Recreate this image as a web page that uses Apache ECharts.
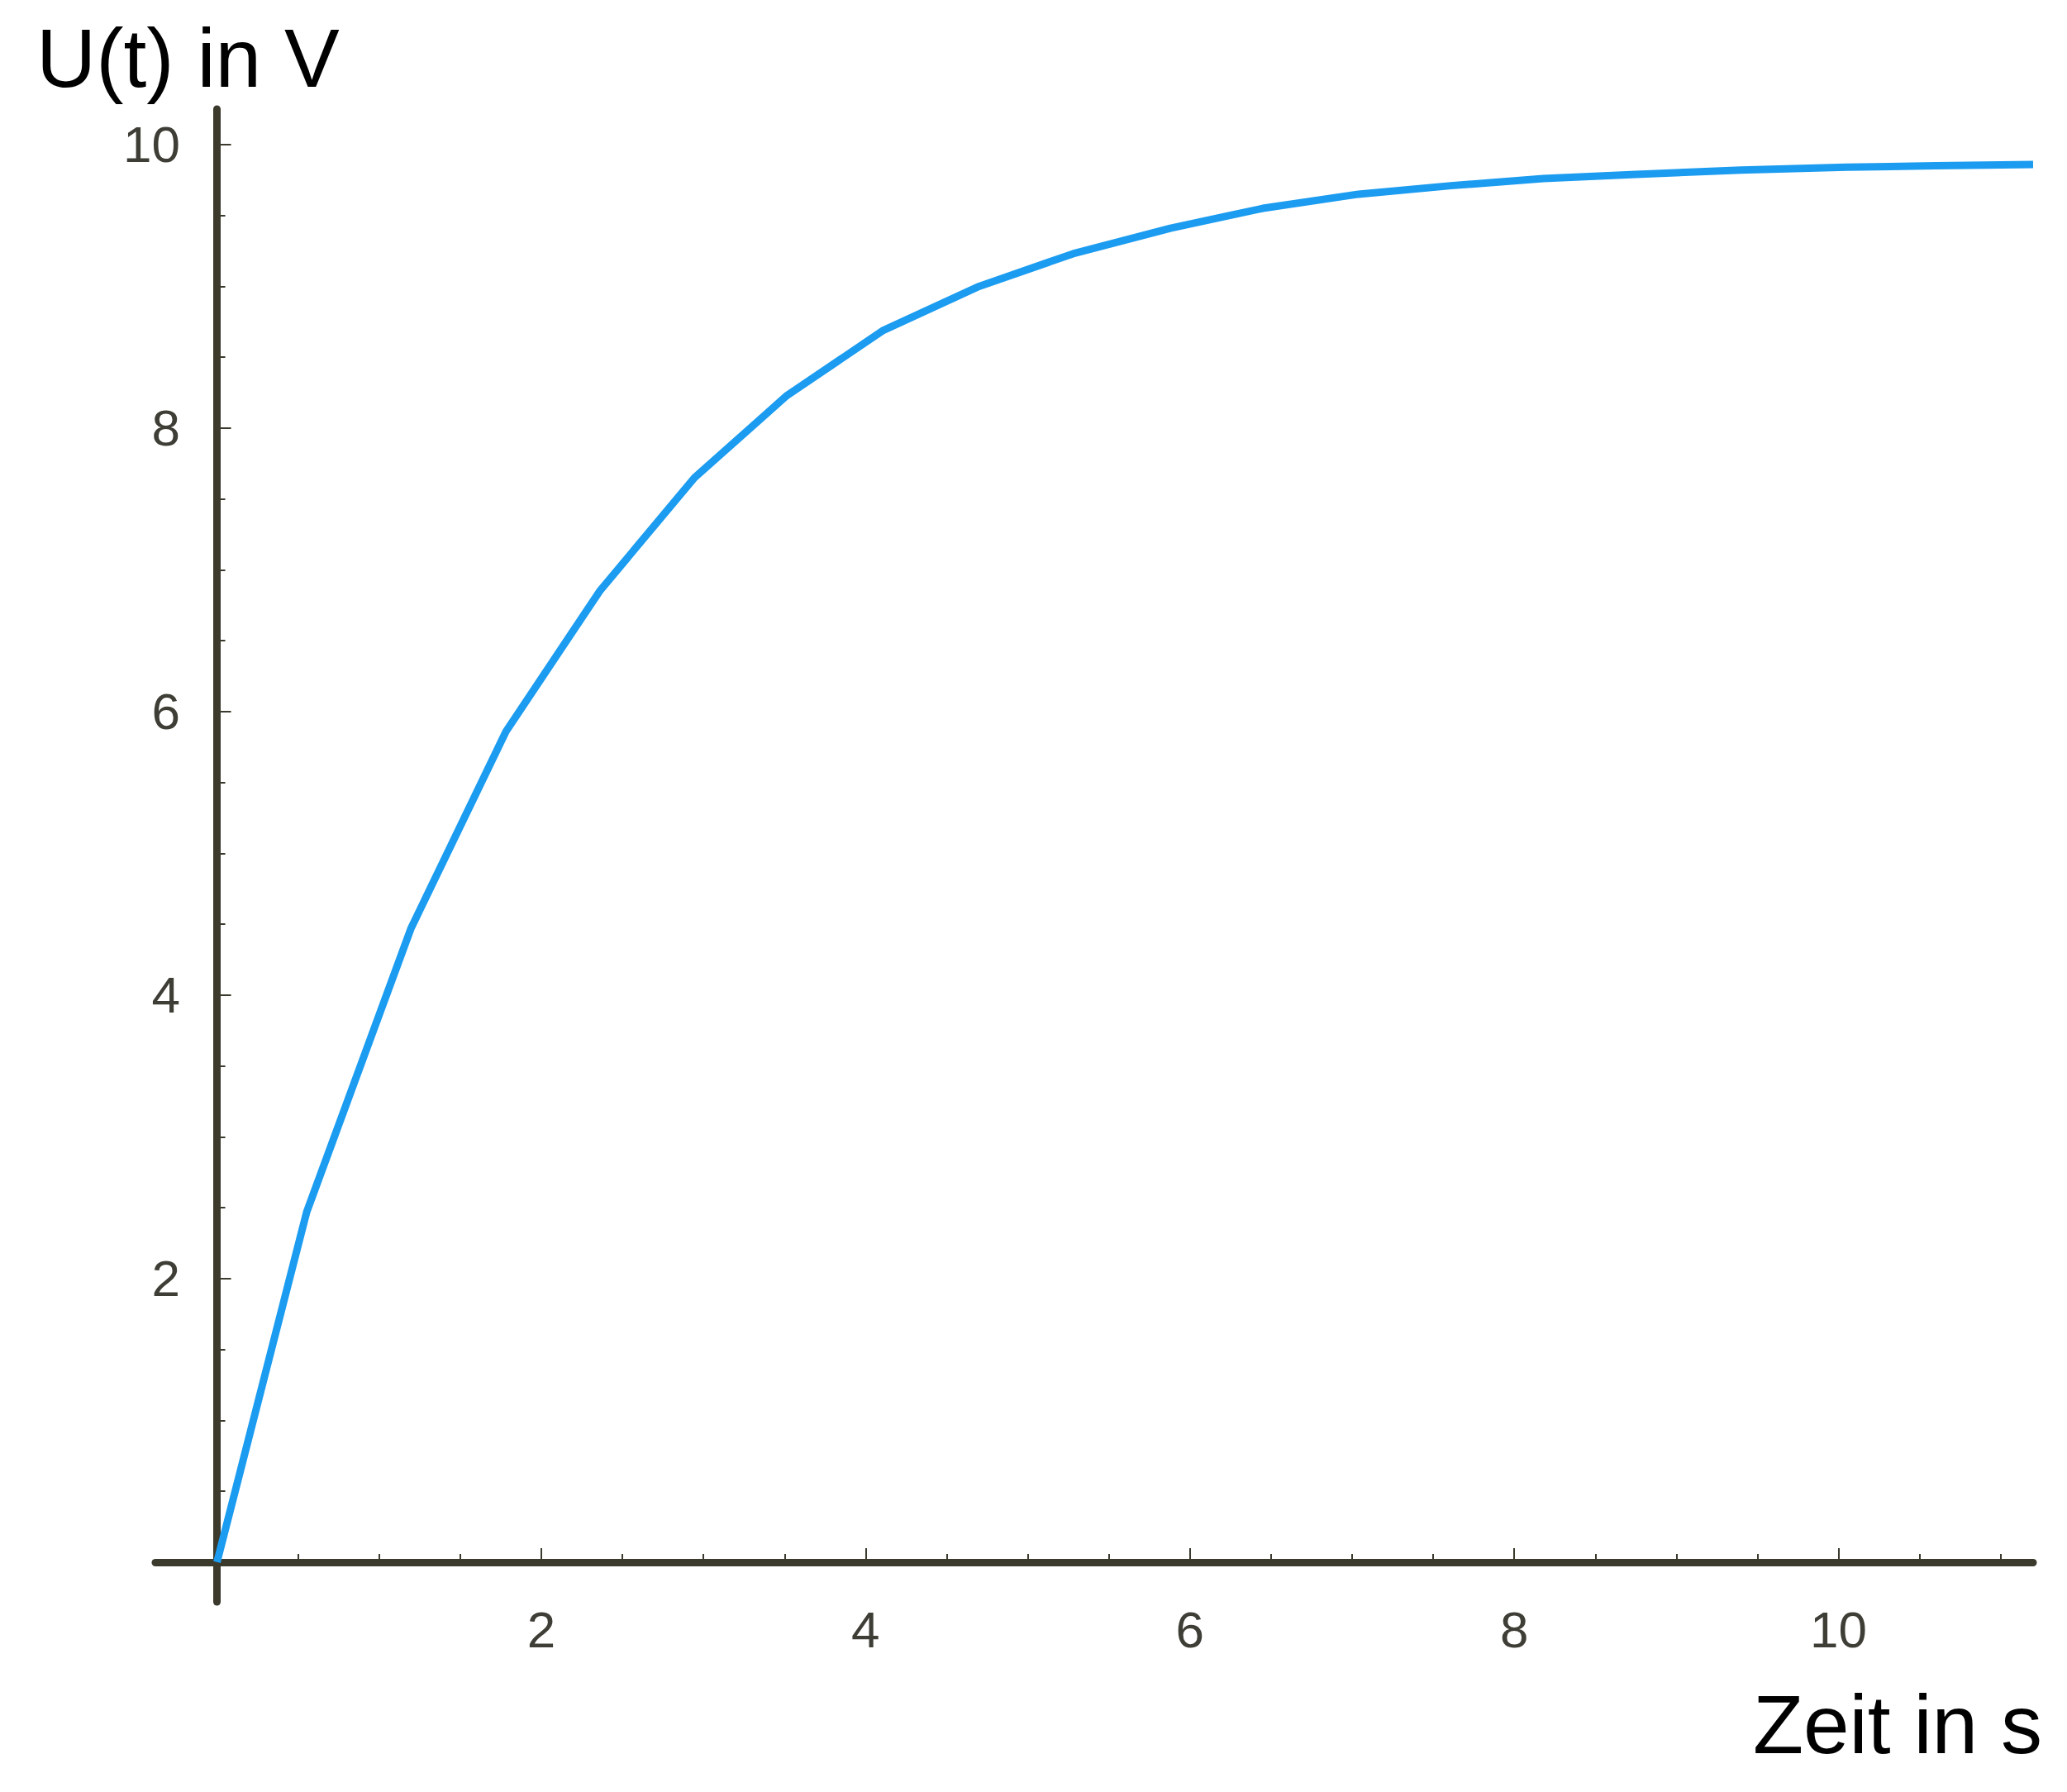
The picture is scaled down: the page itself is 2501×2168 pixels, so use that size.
<!DOCTYPE html>
<html>
<head>
<meta charset="utf-8">
<script src="https://cdn.jsdelivr.net/npm/echarts@6/dist/echarts.min.js"></script>
<style>
html,body{margin:0;padding:0;background:#fff;}
#chart{width:2501px;height:2168px;}
</style>
</head>
<body>
<div id="chart"></div>
<script>
// Time values (s) at the polyline vertices
const timeValues = [0, 0.553, 1.196, 1.782, 2.36, 2.945, 3.515, 4.11, 4.70, 5.28, 5.88, 6.45, 7.04, 7.61, 8.18, 8.75, 9.4, 10.05, 10.6, 11.2];
// Voltage values (V) at those vertices
const voltageValues = [0, 2.47, 4.47, 5.86, 6.85, 7.65, 8.23, 8.69, 9.00, 9.23, 9.41, 9.55, 9.65, 9.71, 9.76, 9.79, 9.82, 9.84, 9.85, 9.86];
// Tick labels
const xMajorTicks = [2, 4, 6, 8, 10];
const xMinorTicks = [0.5, 1, 1.5, 2.5, 3, 3.5, 4.5, 5, 5.5, 6.5, 7, 7.5, 8.5, 9, 9.5, 10.5, 11];
const yMajorTicks = [2, 4, 6, 8, 10];
const yMinorTicks = [0.5, 1, 1.5, 2.5, 3, 3.5, 4.5, 5, 5.5, 6.5, 7, 7.5, 8.5, 9, 9.5];
const yTitle = 'U(t) in V';
const xTitle = 'Zeit in s';

const FONT = '"Liberation Sans", Arial, Helvetica, sans-serif';
const axisColor = '#3b3a2d';
const labelColor = '#3e3e36';
const X_MIN = -0.38, X_MAX = 11.2, Y_MIN = -0.28, Y_MAX = 10.25;

const chart = echarts.init(document.getElementById('chart'), null, {renderer: 'svg'});

function xAxisDef(major) {
  return {
    type: 'value', min: X_MIN, max: X_MAX, position: 'bottom',
    splitLine: {show: false},
    axisLine: {show: major, onZero: true, lineStyle: {color: axisColor, width: 9}},
    axisTick: {show: true, inside: true, length: major ? 17 : 10,
      customValues: major ? xMajorTicks : xMinorTicks,
      lineStyle: {color: axisColor, width: 2}},
    axisLabel: {show: major, customValues: xMajorTicks, margin: 2,
      color: labelColor, fontSize: 62, fontFamily: FONT}
  };
}
function yAxisDef(major) {
  return {
    type: 'value', min: Y_MIN, max: Y_MAX, position: 'left',
    splitLine: {show: false},
    axisLine: {show: major, onZero: true, lineStyle: {color: axisColor, width: 9}},
    axisTick: {show: true, inside: true, length: major ? 17 : 10,
      customValues: major ? yMajorTicks : yMinorTicks,
      lineStyle: {color: axisColor, width: 2}},
    axisLabel: {show: major, customValues: yMajorTicks, margin: -30,
      color: labelColor, fontSize: 62, fontFamily: FONT}
  };
}

chart.setOption({
  animation: false,
  backgroundColor: '#ffffff',
  grid: {left: 188, right: 41, top: 132, bottom: 230, containLabel: false},
  xAxis: [xAxisDef(true), xAxisDef(false)],
  yAxis: [yAxisDef(true), yAxisDef(false)],
  graphic: [
    {type: 'text', left: 44, top: 20,
      style: {text: yTitle, font: '100px ' + FONT, fill: '#000000'}},
    {type: 'text', right: 30, top: 2036,
      style: {text: xTitle, font: '100px ' + FONT, fill: '#000000'}}
  ],
  series: [{
    type: 'line',
    xAxisIndex: 0, yAxisIndex: 0,
    data: timeValues.map((t, i) => [t, voltageValues[i]]),
    showSymbol: false,
    smooth: false,
    lineStyle: {color: '#1b9cf0', width: 9},
    z: 3
  }]
});
</script>
</body>
</html>
